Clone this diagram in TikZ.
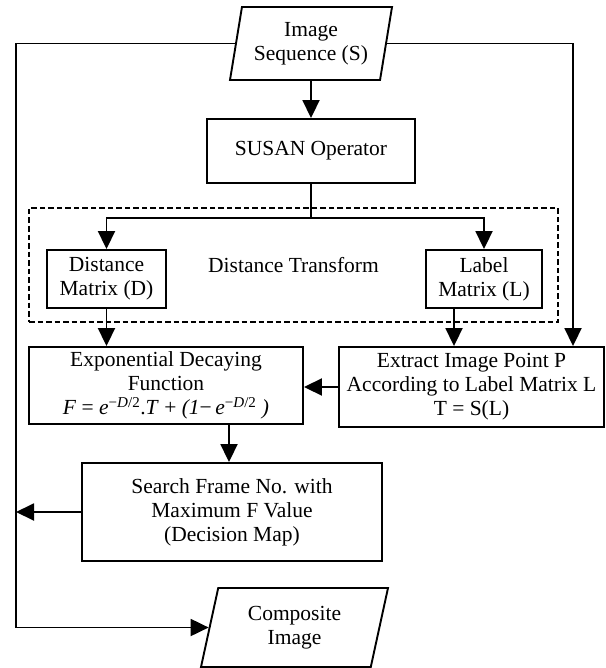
\documentclass[tikz,border=0pt]{standalone}
\usepackage{fontspec}
\setmainfont{Liberation Serif}
\usepackage{tikz}
\usetikzlibrary{shapes}
\usetikzlibrary{arrows.meta}
\usetikzlibrary{calc}

\tikzset{
  blk/.style={draw, line width=1.9pt, align=center, inner sep=1pt},
  io/.style={draw, line width=1.9pt, align=center, inner sep=1pt, trapezium, trapezium stretches body},
  dbox/.style={draw, dashed, dash pattern=on 5.5pt off 3pt, line width=1.9pt, align=center, inner sep=1pt},
  ln/.style={line width=1.9pt},
  arr/.style={line width=1.9pt, -{Triangle[length=18pt,width=17pt]}}
}

\begin{document}
\begin{tikzpicture}[x=1pt, y=-1pt, font=\fontsize{21.5}{24}\selectfont]
  \useasboundingbox (0,0) rectangle (605,668);
  \node[io, trapezium left angle=75, trapezium right angle=105, minimum width=162pt, minimum height=73pt] (seq) at (311,43.5) {Image\\Sequence (S)};
  \node[blk, minimum width=208pt, minimum height=64pt] (susan) at (311,151) {SUSAN Operator};
  \node[dbox, minimum width=529pt, minimum height=114pt] (dt) at (293.5,265) {Distance Transform};
  \node[blk, minimum width=119pt, minimum height=58pt] (dmat) at (106.5,279) {Distance\\Matrix (D)};
  \node[blk, minimum width=116pt, minimum height=58pt] (lmat) at (484,279) {Label\\Matrix (L)};
  \node[blk, minimum width=274pt, minimum height=77pt] (expo) at (166,385.5) {Exponential Decaying\\Function\\\textit{F} = \textit{e}\textsuperscript{−\textit{D}/2}.\textit{T} + \textit{(1}−\,\textit{e}\textsuperscript{−\textit{D}/2} \textit{)}};
  \node[blk, minimum width=265pt, minimum height=80pt] (extract) at (471.5,387) {Extract Image Point P\\According to Label Matrix L\\T = S(L)};
  \node[blk, minimum width=300pt, minimum height=98pt] (search) at (232,512) {Search Frame No. with\\Maximum F Value\\(Decision Map)};
  \node[io, trapezium left angle=69, trapezium right angle=111, minimum width=187pt, minimum height=79pt] (comp) at (294.5,627.5) {Composite\\Image};

  \coordinate (split) at (311,218);
  \coordinate (rline) at (573,0);
  \coordinate (lside) at (16,512);
  \coordinate (lout) at ([xshift=-30pt]lmat.south);
  \coordinate (eout) at ([xshift=63pt]expo.south);

  \draw[arr] (seq) -- (susan);
  \draw[ln] (susan) -- (split);
  \draw[arr] (split) -| (dmat);
  \draw[arr] (split) -| (lmat);
  \draw[arr] (dmat) -- (dmat |- expo.north);
  \draw[arr] (lout) -- (lout |- extract.north);
  \draw[arr] (seq.east) -| (rline |- extract.north);
  \draw[arr] (extract.west) -- (extract.west -| expo.east);
  \draw[arr] (eout) -- (eout |- search.north);
  \draw[arr] (search.west) -- (lside);
  \draw[arr] (seq.west) -| (lside) |- (comp.west);
\end{tikzpicture}
\end{document}
